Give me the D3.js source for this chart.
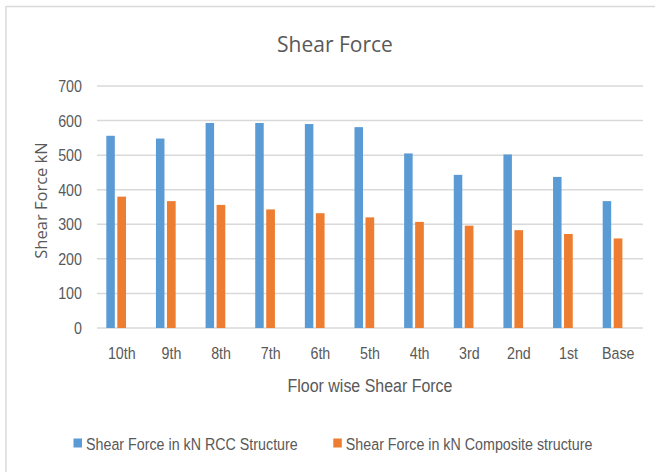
<!DOCTYPE html>
<html>
<head>
<meta charset="utf-8">
<script src="https://cdn.jsdelivr.net/npm/d3@7"></script>
<style>
  body { margin: 0; background: #fff; }
  svg { display: block; }
</style>
</head>
<body>
<div id="chart"></div>
<script>
const floors = ["10th", "9th", "8th", "7th", "6th", "5th", "4th", "3rd", "2nd", "1st", "Base"];
const rccValues = [556, 548, 593, 593, 590, 581, 505, 443, 502, 437, 367];
const compositeValues = [380, 367, 356, 343, 332, 320, 307, 296, 283, 272, 259];
const yTicks = [0, 100, 200, 300, 400, 500, 600, 700];
const seriesNames = ["Shear Force in kN RCC Structure", "Shear Force in kN Composite structure"];

const width = 655, height = 472;
const textColor = "#595959";
const blue = "#5B9BD5", orange = "#ED7D31";
const squeeze = 0.84; // picture text is horizontally condensed

const svg = d3.select("#chart").append("svg")
    .attr("width", width)
    .attr("height", height);

// condensed label: Liberation Sans squeezed sideways
function narrowText(sel, px, py, size, anchor) {
    return sel.append("text")
        .attr("transform", `translate(${px},${py}) scale(${squeeze},1)`)
        .attr("text-anchor", anchor)
        .attr("font-family", "Liberation Sans, Arial, sans-serif")
        .attr("font-size", size)
        .attr("fill", textColor);
}

// chart frame (only left and top edges show in the picture)
svg.append("path")
    .attr("d", "M6,475 V6.5 H660")
    .attr("fill", "none")
    .attr("stroke", "#d9d9d9")
    .attr("stroke-width", 1.5);

const x = d3.scaleBand()
    .domain(floors)
    .range([97, 643]);

const y = d3.scaleLinear()
    .domain([0, 700])
    .range([328, 86]);

// gridlines
svg.append("g")
    .selectAll("line")
    .data(yTicks)
    .join("line")
    .attr("x1", 97)
    .attr("x2", 643)
    .attr("y1", d => y(d))
    .attr("y2", d => y(d))
    .attr("stroke", "#d9d9d9")
    .attr("stroke-width", 1.5);

// y tick labels
const yLab = svg.append("g");
yTicks.forEach(t => {
    narrowText(yLab, 82, y(t) + 6, "17px", "end").text(t);
});

// bars
const bars = svg.append("g");
bars.selectAll(".rcc")
    .data(floors)
    .join("rect")
    .attr("class", "rcc")
    .attr("x", d => x(d) + x.bandwidth() / 2 - 15.5)
    .attr("width", 8.5)
    .attr("y", (d, i) => y(rccValues[i]))
    .attr("height", (d, i) => y(0) - y(rccValues[i]))
    .attr("fill", blue);

bars.selectAll(".comp")
    .data(floors)
    .join("rect")
    .attr("class", "comp")
    .attr("x", d => x(d) + x.bandwidth() / 2 - 4.5)
    .attr("width", 8.7)
    .attr("y", (d, i) => y(compositeValues[i]))
    .attr("height", (d, i) => y(0) - y(compositeValues[i]))
    .attr("fill", orange);

// x tick labels
const xLab = svg.append("g");
floors.forEach(f => {
    narrowText(xLab, x(f) + x.bandwidth() / 2, 359, "17px", "middle").text(f);
});

// title
svg.append("text")
    .attr("x", 335)
    .attr("y", 51.5)
    .attr("text-anchor", "middle")
    .attr("font-family", "Open Sans, sans-serif")
    .attr("font-size", "21px")
    .attr("fill", textColor)
    .text("Shear Force");

// axis titles
narrowText(svg, 370, 391.5, "19px", "middle").text("Floor wise Shear Force");

svg.append("text")
    .attr("transform", "translate(46.5,200.5) rotate(-90)")
    .attr("text-anchor", "middle")
    .attr("font-family", "Open Sans, sans-serif")
    .attr("font-size", "16.5px")
    .attr("fill", textColor)
    .text("Shear Force kN");

// legend
const legendX = [73.5, 333.3];
const legend = svg.append("g");
seriesNames.forEach((name, i) => {
    legend.append("rect")
        .attr("x", legendX[i])
        .attr("y", 438.5)
        .attr("width", 8.5)
        .attr("height", 9)
        .attr("fill", i === 0 ? blue : orange);
    narrowText(legend, legendX[i] + 12.5, 450, "17px", "start").text(name);
});
</script>
</body>
</html>
